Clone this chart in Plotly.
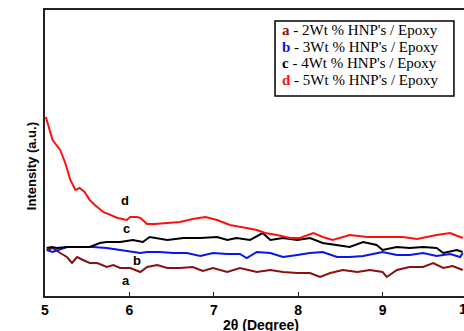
import plotly.graph_objects as go

# ---- data (2θ in degrees, intensity in a.u.) ----
theta_a = [5.02, 5.09, 5.18, 5.26, 5.32, 5.38, 5.45, 5.53, 5.62, 5.73, 5.81, 5.89, 6.01, 6.13, 6.21, 6.33,
           6.45, 6.60, 6.75, 6.87, 6.99, 7.16, 7.31, 7.51, 7.67, 7.82, 7.99, 8.14, 8.26, 8.38, 8.53, 8.70,
           8.85, 9.00, 9.05, 9.17, 9.32, 9.48, 9.60, 9.72, 9.83, 9.95]
int_a = [46, 48, 43, 39, 33, 39, 36, 33, 33, 29, 31, 28, 28, 24, 29, 31,
         28, 28, 29, 25, 28, 24, 28, 24, 26, 24, 23, 23, 19, 23, 26, 24,
         26, 24, 19, 26, 29, 29, 33, 28, 30, 26]

theta_b = [5.02, 5.09, 5.26, 5.41, 5.57, 5.73, 5.89, 6.01, 6.13, 6.21, 6.36, 6.52, 6.68, 6.84, 6.99, 7.16,
           7.31, 7.39, 7.51, 7.67, 7.82, 7.99, 8.14, 8.29, 8.46, 8.61, 8.77, 9.00, 9.17, 9.32, 9.48, 9.64,
           9.80, 9.92, 9.95]
int_b = [46, 44, 49, 49, 49, 48, 46, 44, 43, 44, 44, 43, 43, 40, 43, 42,
         42, 38, 44, 43, 39, 41, 43, 44, 39, 39, 40, 44, 41, 41, 43, 40,
         42, 39, 43]

theta_c = [5.02, 5.08, 5.14, 5.26, 5.38, 5.53, 5.65, 5.73, 5.89, 6.04, 6.16, 6.24, 6.45, 6.64, 6.84, 7.04,
           7.16, 7.27, 7.43, 7.58, 7.67, 7.82, 7.99, 8.14, 8.29, 8.46, 8.61, 8.77, 8.93, 9.00, 9.17, 9.32,
           9.48, 9.64, 9.72, 9.88, 9.95]
int_c = [48, 49, 48, 49, 49, 49, 53, 54, 54, 56, 54, 59, 56, 58, 58, 59,
         56, 58, 56, 63, 56, 58, 56, 58, 53, 51, 49, 54, 51, 46, 49, 48,
         49, 48, 43, 46, 44]

theta_d = [5.01, 5.09, 5.18, 5.24, 5.30, 5.36, 5.41, 5.47, 5.53, 5.59, 5.69, 5.77, 5.86, 5.97, 6.01, 6.09,
           6.13, 6.21, 6.30, 6.45, 6.60, 6.75, 6.90, 7.04, 7.19, 7.39, 7.51, 7.61, 7.75, 7.90, 8.02, 8.18,
           8.29, 8.41, 8.61, 8.82, 9.00, 9.24, 9.41, 9.64, 9.80, 9.95]
int_d = [179, 156, 146, 133, 116, 106, 108, 104, 96, 91, 84, 81, 78, 76, 79, 79,
         78, 72, 72, 73, 74, 77, 79, 76, 71, 68, 66, 63, 61, 58, 58, 63,
         59, 56, 61, 59, 59, 59, 57, 61, 63, 58]

series_names = ["a", "b", "c", "d"]
series_colors = ["#8B1010", "#0A14F0", "#000000", "#FF1010"]
legend_texts = ["2Wt % HNP's / Epoxy", "3Wt % HNP's / Epoxy",
                "4Wt % HNP's / Epoxy", "5Wt % HNP's / Epoxy"]
x_ticks = [5, 6, 7, 8, 9]

# curve label positions
label_theta = [5.96, 6.09, 5.96, 5.95]
label_int = [16, 36, 68, 96]

fig = go.Figure()
for name, xs, ys, col in zip(series_names, [theta_a, theta_b, theta_c, theta_d],
                             [int_a, int_b, int_c, int_d], series_colors):
    fig.add_trace(go.Scatter(x=xs, y=ys, mode="lines", name=name,
                             line=dict(color=col, width=2), showlegend=False))

annotations = []
for name, lx, ly in zip(series_names, label_theta, label_int):
    annotations.append(dict(x=lx, y=ly, xref="x", yref="y", text="<b>" + name + "</b>",
                            showarrow=False, font=dict(family="Arial", size=13, color="black")))

# legend box rows
row_y = [0.930, 0.871, 0.813, 0.755]
for name, txt, col, yy in zip(series_names, legend_texts, series_colors, row_y):
    annotations.append(dict(x=0.562, y=yy, xref="paper", yref="paper", xanchor="left", yanchor="middle",
                            text="<b><span style='color:%s'>%s</span></b> - %s" % (col, name, txt),
                            showarrow=False,
                            font=dict(family="Liberation Serif", size=15, color="black")))

# partially visible "10" tick label (axis end lies just beyond the picture)
annotations.append(dict(x=1.007, y=-0.045, xref="paper", yref="paper", xanchor="center", yanchor="middle",
                        text="<b>10</b>", showarrow=False,
                        font=dict(family="Arial", size=14, color="black")))
# axis titles
annotations.append(dict(x=0.515, y=-0.068, xref="paper", yref="paper", yanchor="top",
                        text="<b>2θ (Degree)</b>", showarrow=False,
                        font=dict(family="Arial", size=14, color="black")))
annotations.append(dict(x=-0.053, y=0.455, xref="paper", yref="paper", textangle=-90,
                        text="<b>Intensity (a.u.)</b>", showarrow=False,
                        font=dict(family="Arial", size=13, color="black")))

fig.update_layout(
    width=464, height=331,
    margin=dict(l=45, r=0, t=10, b=35),
    paper_bgcolor="white", plot_bgcolor="white",
    annotations=annotations,
    shapes=[dict(type="rect", xref="paper", yref="paper", x0=0.549, x1=0.976, y0=0.699, y1=0.9615,
                 line=dict(color="black", width=1.5), fillcolor="white", layer="below")],
    xaxis=dict(range=[5, 9.965], tickvals=x_ticks, ticktext=["<b>%d</b>" % t for t in x_ticks],
               ticks="inside", ticklen=4, tickcolor="#222", showline=True, linecolor="#222",
               linewidth=1.5, mirror=True, showgrid=False, zeroline=False,
               tickfont=dict(family="Arial", size=14, color="black")),
    yaxis=dict(range=[0, 286], showticklabels=False, ticks="", showline=True, linecolor="#222",
               linewidth=1.5, mirror=False, showgrid=False, zeroline=False),
)

fig.write_html("out.html")
